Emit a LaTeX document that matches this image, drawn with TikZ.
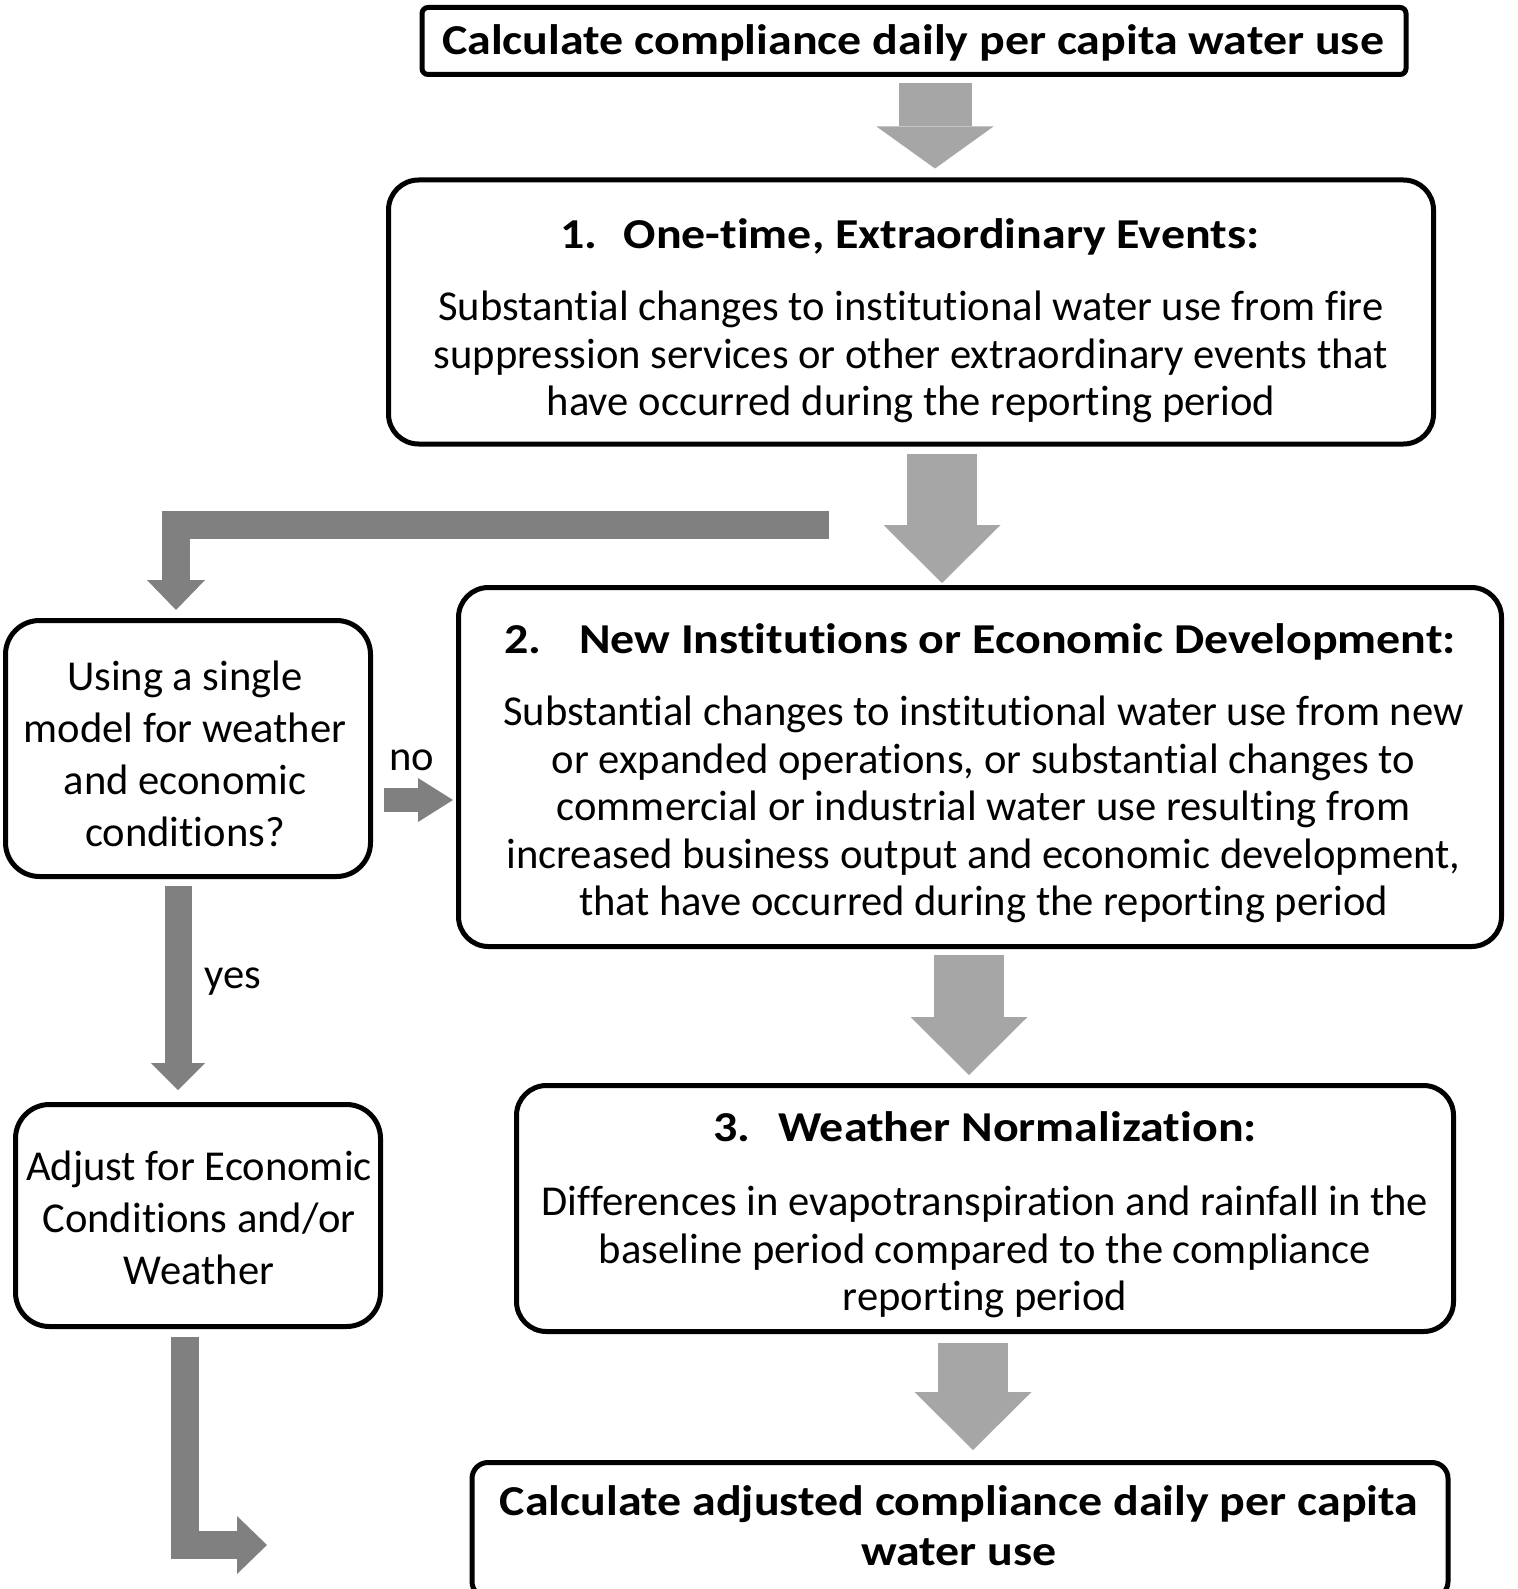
\documentclass[tikz,border=0pt]{standalone}
\usepackage{fontspec}
\setmainfont{Carlito}[Ligatures=NoCommon]
\newfontfamily\titlefamily[FakeStretch=1.125, Ligatures=NoCommon]{Carlito}
\usetikzlibrary{arrows.meta}
\definecolor{flowgray}{HTML}{A6A6A6}
\definecolor{sidegray}{HTML}{808080}

\begin{document}
\begin{tikzpicture}[
x=0.5pt, y=-0.5pt,
box/.style={draw=black, line width=2.5pt, rounded corners=15pt, fill=white, inner sep=0pt},
title/.style={font=\titlefamily\bfseries\fontsize{21.3}{25}\selectfont, align=center, inner sep=0pt},
body/.style={font=\fontsize{21.3}{23.75}\selectfont, align=center, inner sep=0pt},
side/.style={font=\fontsize{21.3}{26}\selectfont, align=center, inner sep=0pt},
flow/.style={draw=flowgray, line width=35pt, -{Triangle[length=29pt, width=58.5pt, line width=0pt]}},
turn/.style={draw=sidegray, line width=14pt, line join=miter, -{Triangle[length=15pt, width=29pt, line width=0pt]}},
]
\useasboundingbox (0,0) rectangle (1517,1589);
\clip (0,0) rectangle (1517,1589);
\fill[white] (0,0) rectangle (1517,1589);

\node[box, rounded corners=3pt, minimum width=492pt, minimum height=33.5pt] (top) at (914,41) {};
\node[title] (toptext) at (913,43) {Calculate compliance daily per capita water use};

\node[box, minimum width=522.5pt, minimum height=132pt] (b1) at (911,312) {};
\node[title] (t1) at (910,236.5) {1.\hspace{13pt}One-time, Extraordinary Events:};
\node[body] (d1) at (911,357) {Substantial changes to institutional water use from fire\\
  suppression services or other extraordinary events that\\
  have occurred during the reporting period};

\node[box, rounded corners=17pt, minimum width=182.5pt, minimum height=128pt] (bq) at (188,748.5) {};
\node[side] (q) at (185,753.5) {Using a single\\ model for weather\\ and economic\\ conditions?};

\node[box, minimum width=521.5pt, minimum height=179.5pt] (b2) at (980,767) {};
\node[title] (t2) at (980,641.5) {2.\hspace{19pt}New Institutions or Economic Development:};
\node[body] (d2) at (983.5,809.5) {Substantial changes to institutional water use from new\\
  or expanded operations, or substantial changes to\\
  commercial or industrial water use resulting from\\
  increased business output and economic development,\\
  that have occurred during the reporting period};

\node[box, rounded corners=17pt, minimum width=182.5pt, minimum height=111pt] (ba) at (198,1215.5) {};
\node[side] (a) at (199,1217.5) {Adjust for Economic\\ Conditions and/or\\ Weather};

\node[box, minimum width=468.5pt, minimum height=123pt] (b3) at (985,1208.5) {};
\node[title] (t3) at (985,1126.5) {3.\hspace{14pt}Weather Normalization:};
\node[body] (d3) at (985,1252) {Differences in evapotranspiration and rainfall in the\\
  baseline period compared to the compliance\\
  reporting period};

\node[box, rounded corners=8pt, minimum width=488pt, minimum height=67.5pt] (fin) at (960,1530) {};
\node[title] (fintext) at (959,1526) {Calculate adjusted compliance daily per capita\\ water use};

\node[side] (no) at (412,760) {no};
\node[side] (yes) at (233,982) {yes};

\coordinate (lstart) at (829,525);
\coordinate (lend) at (267,1545);

\draw[flow, line width=36.5pt, -{Triangle[length=21pt, width=58.5pt, line width=0pt]}, shorten <=3pt, shorten >=4.5pt]
  ([xshift=10.5pt]top.south) -- ([xshift=10.5pt]top.south |- b1.north);
\draw[flow, shorten <=3.5pt, shorten >=1pt] ([xshift=15.5pt]b1.south) -- ([xshift=15.5pt]b1.south |- b2.north);
\draw[flow, shorten <=3pt, shorten >=4pt] ([xshift=-5.5pt]b2.south) -- ([xshift=-5.5pt]b2.south |- b3.north);
\draw[flow, shorten <=4.5pt, shorten >=5pt] ([xshift=-6pt]b3.south) -- ([xshift=-6pt]b3.south |- fin.north);

\draw[turn, shorten >=4pt] (lstart) -| ([xshift=-6pt]bq.north);
\draw[turn, line width=12pt, -{Triangle[length=17.5pt, width=22pt, line width=0pt]}, shorten <=5.5pt, shorten >=1.5pt]
  ([yshift=-25.75pt]bq.east) -- ([yshift=-25.75pt]bq.east -| b2.west);
\draw[turn, line width=13.5pt, -{Triangle[length=13.5pt, width=27pt, line width=0pt]}, shorten <=3.5pt, shorten >=6pt]
  ([xshift=-5pt]bq.south) -- ([xshift=-5pt]bq.south |- ba.north);
\draw[turn, shorten <=4pt] ([xshift=-6.5pt]ba.south) |- (lend);

\end{tikzpicture}
\end{document}
